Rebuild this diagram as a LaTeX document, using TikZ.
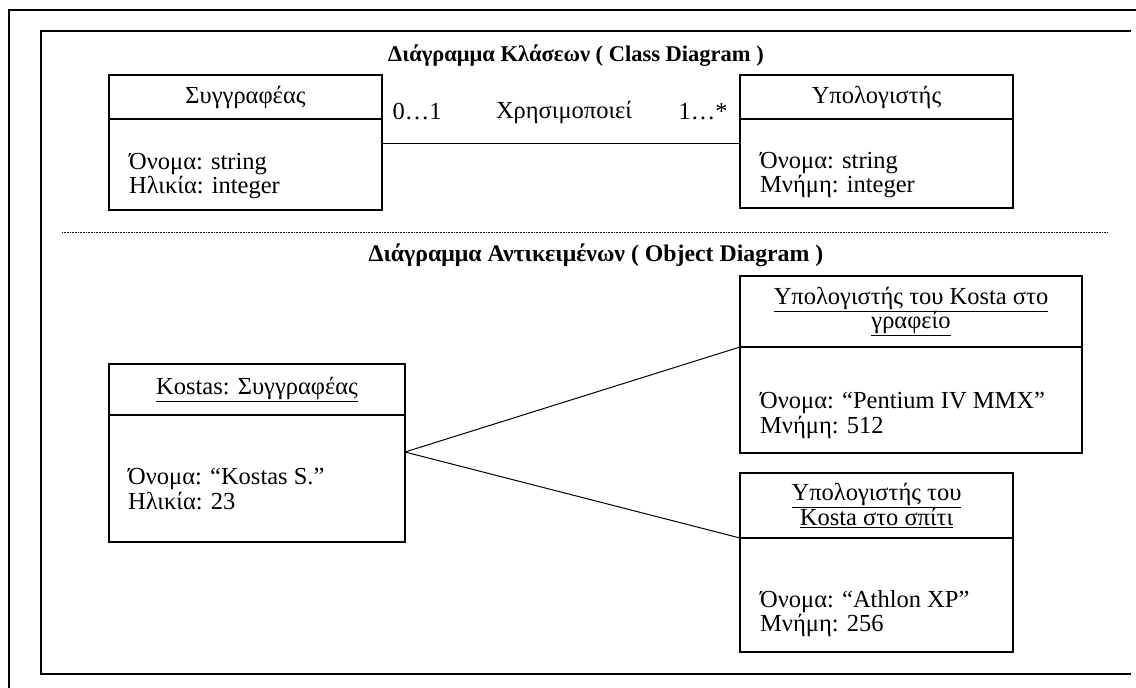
\documentclass[tikz,border=0pt]{standalone}
\usepackage{fontspec}
\setmainfont{Liberation Serif}
\usetikzlibrary{positioning}

\begin{document}
\begin{tikzpicture}[
  x=1pt,y=-1pt,
  every node/.style={font=\fontsize{24.5}{24.5}\selectfont},
  frame/.style={line width=1.4pt},
  hdr/.style={draw,line width=1.1pt,anchor=north west,align=center,inner sep=0pt,outer sep=0pt},
  bodybox/.style={draw,line width=1.1pt,inner sep=0pt,outer sep=0pt},
  attr/.style={anchor=north west,align=left,inner sep=0pt},
  ttl/.style={font=\bfseries\fontsize{22.5}{24}\selectfont},
  link/.style={line width=1pt}
]
  \useasboundingbox (0,0) rectangle (1136,688);

  % Frames (outer one is cut by the page edge)
  \draw[frame] (1136,10) -- (9,10) -- (9,688);
  \draw[frame] (1131,31) -- (41,31) -- (41,674) -- (1131,674);

  % CLASS DIAGRAM
  \node[ttl] (cls_ttl) at (576,56) {Διάγραμμα Κλάσεων ( Class Diagram )};

  \node[hdr,minimum width=273pt,minimum height=44pt] (SG_hdr) at (109,75) {Συγγραφέας};
  \node[bodybox,minimum width=273pt,minimum height=91pt,below=0pt of SG_hdr] (SG_body) {};
  \node[attr,below right=34pt and 20pt of SG_body.north west] (SG_attr) {Όνομα: string\\Ηλικία: integer};

  \node[hdr,minimum width=273pt,minimum height=44pt] (PC_hdr) at (740,75) {Υπολογιστής};
  \node[bodybox,minimum width=273pt,minimum height=89pt,below=0pt of PC_hdr] (PC_body) {};
  \node[attr,below right=33pt and 20pt of PC_body.north west] (PC_attr) {Όνομα: string\\Μνήμη: integer};

  % association and its labels
  \draw[link] ([yshift=-24pt]SG_body.north east) -- ([yshift=-24pt]PC_body.north west);
  \node (mult_l) at (417,112) {0…1};
  \node (assoc)  at (564,112) {Χρησιμοποιεί};
  \node (mult_r) at (703,112) {1…*};

  % separator
  \draw[line width=0.8pt,dash pattern=on 1pt off 0.6pt] (62,232) -- (1108,232);

  % OBJECT DIAGRAM
  \node[ttl,font=\bfseries\fontsize{23.8}{24}\selectfont] (obj_ttl) at (596,255) {Διάγραμμα Αντικειμένων ( Object Diagram )};

  \node[hdr,minimum width=296pt,minimum height=51pt] (KS_hdr) at (109,364) {\underline{Kostas: Συγγραφέας}};
  \node[bodybox,minimum width=296pt,minimum height=127pt,below=0pt of KS_hdr] (KS_body) {};
  \node[attr,below right=53pt and 19pt of KS_body.north west] (KS_attr) {Όνομα: “Kostas S.”\\Ηλικία: 23};

  \node[hdr,minimum width=342pt,minimum height=71pt] (OF_hdr) at (740,276) {\underline{Υπολογιστής του Kosta στο}\\\underline{γραφείο}};
  \node[bodybox,minimum width=342pt,minimum height=106pt,below=0pt of OF_hdr] (OF_body) {};
  \node[attr,below right=45pt and 20pt of OF_body.north west] (OF_attr) {Όνομα: “Pentium IV MMX”\\Μνήμη: 512};

  \node[hdr,minimum width=273pt,minimum height=65pt] (HM_hdr) at (740,473) {\underline{Υπολογιστής του}\\\underline{Kosta στο σπίτι}};
  \node[bodybox,minimum width=273pt,minimum height=114pt,below=0pt of HM_hdr] (HM_body) {};
  \node[attr,below right=52pt and 20pt of HM_body.north west] (HM_attr) {Όνομα: “Athlon XP”\\Μνήμη: 256};

  % links
  \draw[link] ([yshift=-37pt]KS_body.north east) -- (OF_hdr.south west);
  \draw[link] ([yshift=-37pt]KS_body.north east) -- (HM_hdr.south west);
\end{tikzpicture}
\end{document}
